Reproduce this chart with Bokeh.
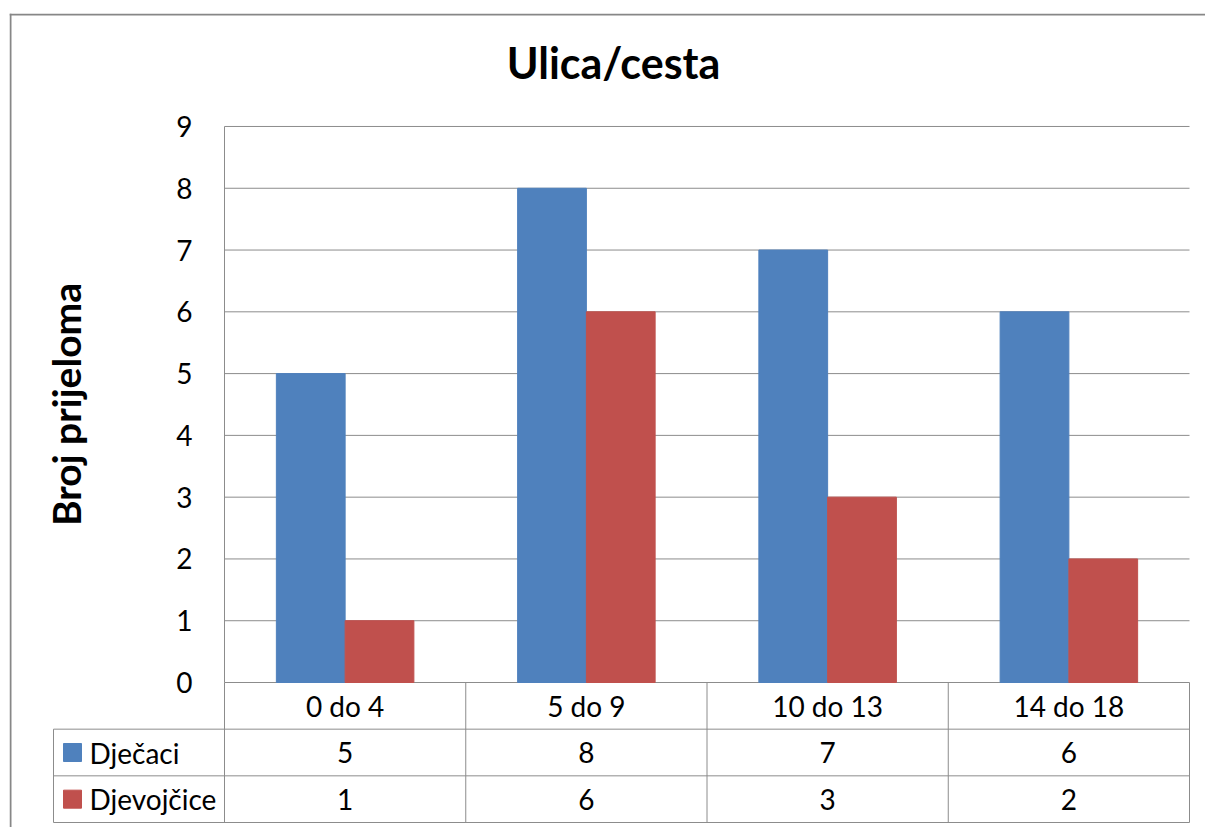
from bokeh.plotting import figure
from bokeh.models import ColumnDataSource, Range1d, FixedTicker
from bokeh.core.properties import value
from bokeh.embed import file_html
from bokeh.resources import INLINE

# ---------------- data ----------------
title_text = "Ulica/cesta"
y_label = "Broj prijeloma"
categories = ["0 do 4", "5 do 9", "10 do 13", "14 do 18"]
series_names = ["Dječaci", "Djevojčice"]
djecaci = [5, 8, 7, 6]
djevojcice = [1, 6, 3, 2]
y_ticks = [0, 1, 2, 3, 4, 5, 6, 7, 8, 9]

# ---------------- style / layout constants (pixels on the page) ----------------
colors = ["#4F81BD", "#C0504D"]
FONT = "Lato"
GRID = "#8c8c8c"
BORDER = "#878787"
CX0, CY0 = 9, 13          # canvas origin on the page
W, H = 1196, 814          # canvas size
PL, PB = 224, 682         # plot-area left edge / baseline (y = 0)
CAT_PX = 241.25           # pixel width of one category column
UNIT_PX = 61.78           # pixel height of one y unit
TABLE_LEFT = 53           # left edge of the data table
ROW = 0.7554              # table row height in y units
BAR_W = 0.285
BAR_OFF = 0.1425

n = len(categories)
ymax = y_ticks[-1]
centers = [i + 0.5 for i in range(n)]

def dx(px):
    return (px - PL) / CAT_PX

def dy(py):
    return (PB - py) / UNIT_PX

x_start, x_end = dx(CX0), dx(CX0 + W)
y_start, y_end = dy(CY0 + H), dy(CY0)

p = figure(width=W, height=H, x_range=Range1d(x_start, x_end),
           y_range=Range1d(y_start, y_end),
           output_backend="svg", toolbar_location=None,
           min_border=0, min_border_left=0, min_border_right=0,
           min_border_top=0, min_border_bottom=0, x_axis_location=None,
           margin=(CY0, 0, 0, CX0))
p.grid.visible = False
p.outline_line_color = None
p.border_fill_color = None
p.background_fill_color = None

# outer chart border (left and top)
p.segment(x0=[dx(CX0 + 1), dx(CX0)], y0=[y_end, dy(CY0 + 1)],
          x1=[dx(CX0 + 1), x_end], y1=[y_start, dy(CY0 + 1)],
          line_color=BORDER, line_width=2)

# gridlines of the plot area
p.segment(x0=[0] * len(y_ticks), x1=[n] * len(y_ticks), y0=y_ticks, y1=y_ticks,
          line_color=GRID, line_width=1)

# bars
src = ColumnDataSource(dict(
    xb=[c - BAR_OFF for c in centers], xg=[c + BAR_OFF for c in centers],
    djecaci=djecaci, djevojcice=djevojcice))
p.vbar(x="xb", top="djecaci", width=BAR_W, source=src,
       fill_color=colors[0], line_color=colors[0])
p.vbar(x="xg", top="djevojcice", width=BAR_W, source=src,
       fill_color=colors[1], line_color=colors[1])

# y axis, placed at the left edge of the plot area
ax = p.yaxis[0]
ax.fixed_location = 0
ax.ticker = FixedTicker(ticks=y_ticks)
ax.bounds = (0, ymax)
ax.axis_line_color = GRID
ax.major_tick_out = 0
ax.major_tick_in = 0
ax.minor_tick_out = 0
ax.minor_tick_in = 0
ax.major_label_standoff = 32
ax.major_label_text_font = FONT
ax.major_label_text_font_size = "28px"
ax.major_label_text_color = "#000000"
ax.axis_label = y_label
ax.axis_label_text_font = FONT
ax.axis_label_text_font_size = "39px"
ax.axis_label_text_font_style = "bold"
ax.axis_label_text_color = "#000000"
ax.axis_label_standoff = 84

# title
p.text(x=[dx(613)], y=[dy(62)], text=[title_text],
       text_font=value(FONT), text_font_size="43px", text_font_style="bold",
       text_color="#000000", text_align="center", text_baseline="alphabetic")

# ---------------- data table ----------------
rows_y = [-ROW, -2 * ROW, -3 * ROW]
left_edge = dx(TABLE_LEFT)
p.segment(x0=[left_edge] * 3, x1=[n] * 3, y0=rows_y, y1=rows_y,
          line_color=GRID, line_width=1)
vx = [left_edge] + list(range(n + 1))
vy0 = [-ROW] + [0] * (n + 1)
p.segment(x0=vx, y0=vy0, x1=vx, y1=[-3 * ROW] * len(vx), line_color=GRID, line_width=1)

txt = dict(text_font=value(FONT), text_font_size="28px", text_color="#000000",
           text_baseline="middle")
p.text(x=centers, y=[-0.5 * ROW] * n, text=categories, text_align="center", **txt)
p.text(x=centers, y=[-1.5 * ROW] * n, text=[str(v) for v in djecaci],
       text_align="center", **txt)
p.text(x=centers, y=[-2.5 * ROW] * n, text=[str(v) for v in djevojcice],
       text_align="center", **txt)

sq_x = dx(TABLE_LEFT + 19)
lab_x = dx(TABLE_LEFT + 36)
p.scatter(x=[sq_x, sq_x], y=[-1.5 * ROW, -2.5 * ROW], marker="square", size=18,
          fill_color=colors, line_color=colors)
p.text(x=[lab_x, lab_x], y=[-1.5 * ROW, -2.5 * ROW], text=series_names,
       text_align="left", **txt)

open("out.html", "w").write(file_html(p, INLINE))
